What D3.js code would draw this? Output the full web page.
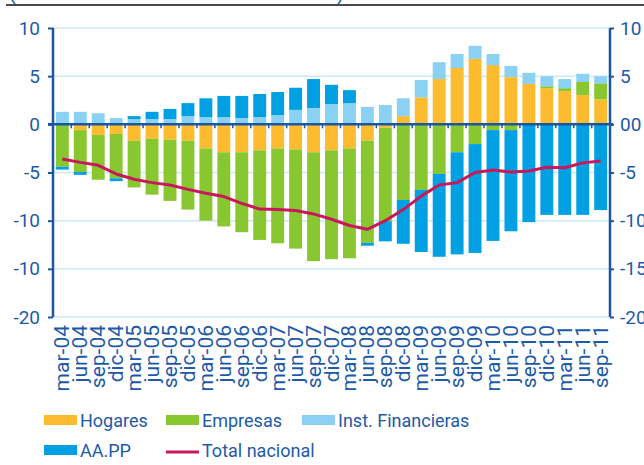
<!DOCTYPE html>
<html>
<head>
<meta charset="utf-8">
<script src="https://cdn.jsdelivr.net/npm/d3@7"></script>
<style>
  body { margin: 0; background: #fff; }
  svg { display: block; font-family: Roboto, "Liberation Sans", sans-serif; }
  .lbl { fill: #1e5aa8; }
</style>
</head>
<body>
<div id="chart"></div>
<script>
var svgWidth = 644;
var svgHeight = 465;

// quarters
var quarters = ["mar-04", "jun-04", "sep-04", "dic-04", "mar-05", "jun-05", "sep-05", "dic-05",
  "mar-06", "jun-06", "sep-06", "dic-06", "mar-07", "jun-07", "sep-07", "dic-07",
  "mar-08", "jun-08", "sep-08", "dic-08", "mar-09", "jun-09", "sep-09", "dic-09",
  "mar-10", "jun-10", "sep-10", "dic-10", "mar-11", "jun-11", "sep-11"];

// series values
var hogares = [0, -0.6, -1.1, -1.0, -1.7, -1.5, -1.6, -1.7, -2.5, -2.9, -2.9, -2.7, -2.5, -2.6, -2.9, -2.7,
  -2.5, -1.7, -0.35, 0.85, 2.8, 4.7, 5.85, 6.8, 6.15, 4.9, 4.2, 3.75, 3.45, 3.05, 2.6];
var empresas = [-4.4, -4.35, -4.65, -4.6, -4.85, -5.8, -6.35, -7.15, -7.5, -7.7, -8.3, -9.3, -9.85, -10.3, -11.3, -11.3,
  -11.4, -10.6, -9.7, -7.85, -6.8, -5.15, -2.9, -2.05, -0.6, -0.6, 0, 0.2, 0.3, 1.35, 1.65];
var instFin = [1.3, 1.3, 1.15, 0.65, 0.55, 0.55, 0.55, 0.85, 0.75, 0.75, 0.65, 0.75, 0.95, 1.5, 1.7, 2.1,
  2.2, 1.8, 2.0, 1.85, 1.8, 1.75, 1.45, 1.35, 1.15, 1.15, 1.15, 1.05, 0.95, 0.85, 0.75];
var aapp = [-0.3, -0.3, 0, -0.3, 0.3, 0.75, 1.05, 1.35, 1.95, 2.2, 2.3, 2.4, 2.4, 2.3, 3.0, 2.0,
  1.35, -0.3, -2.1, -4.55, -6.45, -8.6, -10.6, -11.3, -11.5, -10.5, -10.15, -9.4, -9.4, -9.4, -8.9];
var totalNacional = [-3.6, -3.95, -4.25, -5.15, -5.7, -6.05, -6.3, -6.75, -7.15, -7.5, -8.2, -8.8, -8.85, -8.95, -9.3, -9.85,
  -10.5, -10.9, -10.0, -8.85, -7.45, -6.3, -6.05, -5.0, -4.75, -4.95, -4.85, -4.45, -4.5, -4.0, -3.8];

// tick labels, as printed on the picture
var tickValues = [10, 5, 0, -5, -10, -15, -20];
var leftTickLabels = ["10", "5", "0", "-5", "-10", "-10", "-20"];
var rightTickLabels = ["10", "5", "00", "-5", "-10", "-15", "-20"];

var seriesNames = ["Hogares", "Empresas", "Inst. Financieras", "AA.PP"];
var colors = {
  "Hogares": "#fdbc30",
  "Empresas": "#89c731",
  "Inst. Financieras": "#8ad1f3",
  "AA.PP": "#00a0e3",
  "Total nacional": "#c9175c"
};
var blue = "#1a56a4";

var rows = quarters.map(function(q, i) {
  return {
    quarter: q,
    "Hogares": hogares[i],
    "Empresas": empresas[i],
    "Inst. Financieras": instFin[i],
    "AA.PP": aapp[i],
    total: totalNacional[i]
  };
});

var svg = d3.select("#chart")
  .append("svg")
  .attr("width", svgWidth)
  .attr("height", svgHeight);

var plotLeft = 53, plotRight = 610, plotTop = 28, plotBottom = 317;

var xScale = d3.scaleBand()
  .domain(quarters)
  .range([plotLeft, plotRight])
  .paddingInner(0.28)
  .paddingOuter(0.16);

var yScale = d3.scaleLinear()
  .domain([-20, 10])
  .range([plotBottom, plotTop]);

// title remnant at the top
svg.append("line")
  .attr("x1", 6).attr("x2", svgWidth)
  .attr("y1", 5).attr("y2", 5)
  .attr("stroke", "#4a4a4a")
  .attr("stroke-width", 2);
svg.append("text").attr("class", "lbl").attr("x", 9).attr("y", 0)
  .attr("font-size", 20).text("(");
svg.append("text").attr("class", "lbl").attr("x", 337).attr("y", 0)
  .attr("font-size", 20).text(")");

// gridlines
svg.append("g")
  .selectAll("line")
  .data(tickValues.filter(function(v) { return v !== 0; }))
  .enter()
  .append("line")
  .attr("x1", plotLeft).attr("x2", plotRight)
  .attr("y1", d => yScale(d)).attr("y2", d => yScale(d))
  .attr("stroke", "#cce8f6")
  .attr("stroke-width", 1.5);

// stacked bars
var stack = d3.stack()
  .keys(seriesNames)
  .offset(d3.stackOffsetDiverging);
var stacked = stack(rows);

svg.append("g")
  .selectAll("g")
  .data(stacked)
  .enter()
  .append("g")
  .attr("fill", d => colors[d.key])
  .selectAll("rect")
  .data(d => d)
  .enter()
  .append("rect")
  .attr("x", d => xScale(d.data.quarter))
  .attr("width", xScale.bandwidth())
  .attr("y", d => yScale(Math.max(d[0], d[1])))
  .attr("height", d => Math.abs(yScale(d[0]) - yScale(d[1])));

// total line
var line = d3.line()
  .x(d => xScale(d.quarter) + xScale.bandwidth() / 2)
  .y(d => yScale(d.total));

svg.append("path")
  .datum(rows)
  .attr("d", line)
  .attr("fill", "none")
  .attr("stroke", colors["Total nacional"])
  .attr("stroke-width", 3)
  .attr("stroke-linejoin", "round");

// zero line with small ticks between bars
var y0 = yScale(0);
var step = xScale.step();
svg.append("line")
  .attr("x1", plotLeft - 5).attr("x2", plotRight + 3)
  .attr("y1", y0).attr("y2", y0)
  .attr("stroke", blue)
  .attr("stroke-width", 2.5);
svg.append("g")
  .selectAll("line")
  .data(quarters.slice(1))
  .enter()
  .append("line")
  .attr("x1", d => xScale(d) - step * 0.14)
  .attr("x2", d => xScale(d) - step * 0.14)
  .attr("y1", y0).attr("y2", y0 + 4)
  .attr("stroke", blue)
  .attr("stroke-width", 1.5);

// left axis
var leftAxis = d3.axisLeft(yScale)
  .tickValues(tickValues)
  .tickFormat((d, i) => leftTickLabels[i])
  .tickSize(5)
  .tickPadding(8);
var gl = svg.append("g")
  .attr("transform", `translate(${plotLeft}, 0)`)
  .call(leftAxis);
gl.select(".domain").attr("stroke", blue).attr("stroke-width", 2.5)
  .attr("d", `M0,${plotTop}V${plotBottom}`);
gl.selectAll(".tick line").attr("stroke", blue).attr("stroke-width", 2);
gl.selectAll(".tick text").attr("fill", "#1e5aa8").attr("font-size", 19)
  .attr("font-family", "Roboto, sans-serif");

// right axis
var rightAxis = d3.axisRight(yScale)
  .tickValues(tickValues)
  .tickFormat((d, i) => rightTickLabels[i])
  .tickSize(4)
  .tickPadding(6);
var gr = svg.append("g")
  .attr("transform", `translate(${plotRight}, 0)`)
  .call(rightAxis);
gr.select(".domain").attr("stroke", blue).attr("stroke-width", 2.5)
  .attr("d", `M0,${plotTop}V${plotBottom}`);
gr.selectAll(".tick line").attr("stroke", blue).attr("stroke-width", 2);
gr.selectAll(".tick text").attr("fill", "#1e5aa8").attr("font-size", 19)
  .attr("font-family", "Roboto, sans-serif");

// rotated quarter labels
svg.append("g")
  .selectAll("text")
  .data(quarters)
  .enter()
  .append("text")
  .attr("class", "lbl")
  .attr("font-size", 21)
  .attr("text-anchor", "end")
  .attr("transform", d => `translate(${xScale(d) + xScale.bandwidth() / 2 + 7}, 325) rotate(-90)`)
  .text(d => d);

// legend
var legendItems = [
  { name: "Hogares", x: 44, y: 420, type: "rect" },
  { name: "Empresas", x: 166, y: 420, type: "rect" },
  { name: "Inst. Financieras", x: 302, y: 420, type: "rect" },
  { name: "AA.PP", x: 44, y: 450, type: "rect" },
  { name: "Total nacional", x: 166, y: 450, type: "line" }
];
var legend = svg.append("g");
legendItems.forEach(function(item) {
  if (item.type === "rect") {
    legend.append("rect")
      .attr("x", item.x).attr("y", item.y - 5)
      .attr("width", 33).attr("height", 10)
      .attr("fill", colors[item.name]);
  } else {
    legend.append("line")
      .attr("x1", item.x).attr("x2", item.x + 33)
      .attr("y1", item.y + 2).attr("y2", item.y + 2)
      .attr("stroke", colors[item.name])
      .attr("stroke-width", 3);
  }
  legend.append("text")
    .attr("class", "lbl")
    .attr("x", item.x + 36)
    .attr("y", item.y + 7)
    .attr("font-size", 18)
    .text(item.name);
});
</script>
</body>
</html>
